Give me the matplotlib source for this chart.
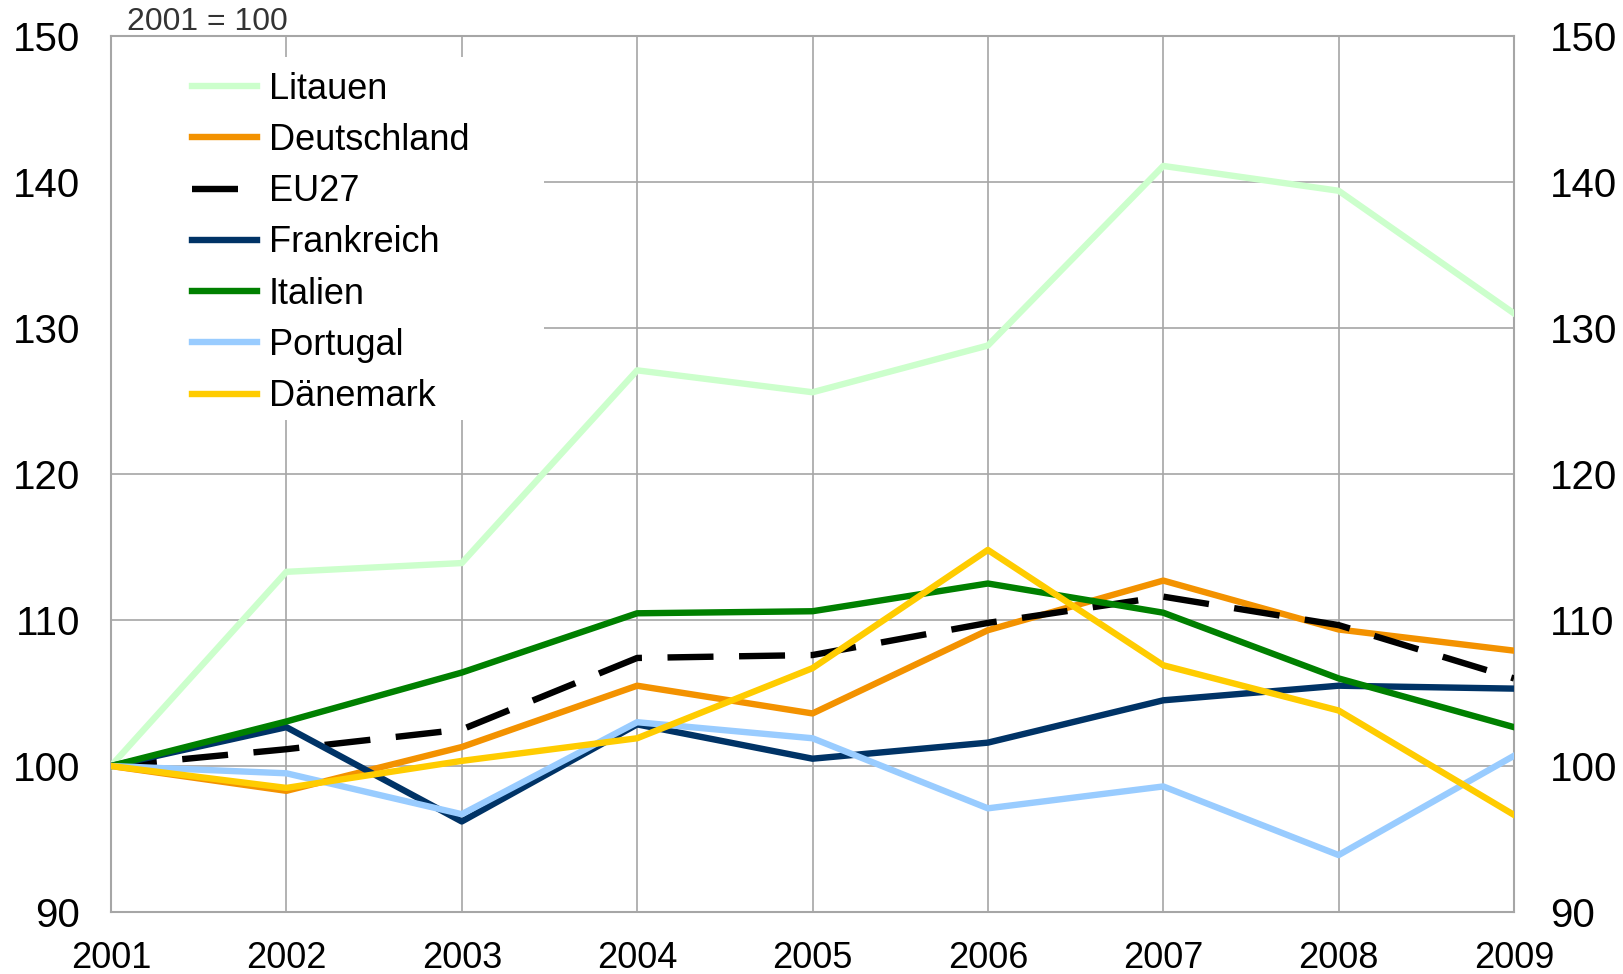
import matplotlib
matplotlib.use("Agg")
import matplotlib.pyplot as plt
from matplotlib.patches import Rectangle

years = [2001, 2002, 2003, 2004, 2005, 2006, 2007, 2008, 2009]
litauen = [100, 113.3, 113.9, 127.1, 125.6, 128.8, 141.1, 139.4, 131.0]
deutschland = [100, 98.3, 101.3, 105.5, 103.6, 109.3, 112.7, 109.35, 107.9]
eu27 = [100, 101.15, 102.5, 107.4, 107.6, 109.8, 111.6, 109.65, 106.0]
frankreich = [100, 102.66, 96.2, 102.85, 100.5, 101.6, 104.5, 105.5, 105.3]
italien = [100, 103.05, 106.4, 110.46, 110.6, 112.5, 110.5, 106.0, 102.66]
portugal = [100, 99.5, 96.7, 103.0, 101.9, 97.1, 98.6, 93.9, 100.7]
daenemark = [100, 98.5, 100.35, 101.9, 106.7, 114.8, 106.9, 103.8, 96.65]

series_names = ["Litauen", "Deutschland", "EU27", "Frankreich", "Italien", "Portugal", "Dänemark"]
series_values = [litauen, deutschland, eu27, frankreich, italien, portugal, daenemark]
series_colors = ["#CCFFCC", "#F39200", "#000000", "#003366", "#008000", "#99CCFF", "#FFCC00"]

y_ticks = [90, 100, 110, 120, 130, 140, 150]
x_tick_labels = [str(y) for y in years]
note = "2001 = 100"

plt.rcParams['font.family'] = ['Liberation Sans', 'DejaVu Sans']

W, H = 1624, 974
fig = plt.figure(figsize=(W / 100, H / 100), dpi=100)
L, R, T, B = 111, 1514, 36, 912
ax = fig.add_axes([L / W, 1 - B / H, (R - L) / W, (B - T) / H])

LW = 4.6
for name, vals, col in zip(series_names, series_values, series_colors):
    if name == "EU27":
        ax.plot(years, vals, color=col, lw=LW, label=name, dashes=(7.2, 4.0),
                solid_capstyle='butt', dash_capstyle='butt', zorder=3)
    else:
        ax.plot(years, vals, color=col, lw=LW, label=name, zorder=3)

ax.set_xlim(years[0], years[-1])
ax.set_ylim(90, 150)
ax.set_xticks(years)
ax.set_xticklabels(x_tick_labels, fontsize=26)
ax.set_yticks(y_ticks)
ax.set_yticklabels([str(v) for v in y_ticks], fontsize=29)
ax.tick_params(axis='both', length=0)
ax.tick_params(axis='y', pad=22)
ax.tick_params(axis='x', pad=21)
ax.grid(True, color="#A6A6A6", lw=1.2)
ax.set_axisbelow(True)
for s in ax.spines.values():
    s.set_color("#A6A6A6")
    s.set_linewidth(1.5)

# white legend background area
bx0, bx1, by0, by1 = L, 544, 57, 420
ax.add_patch(Rectangle(((bx0 - L) / (R - L), (B - by1) / (B - T)),
                       (bx1 - bx0) / (R - L), (by1 - by0) / (B - T),
                       transform=ax.transAxes, facecolor='white', edgecolor='none',
                       zorder=1))

ax2 = ax.twinx()
ax2.set_ylim(90, 150)
ax2.set_yticks(y_ticks)
ax2.set_yticklabels([str(v) for v in y_ticks], fontsize=29)
ax2.tick_params(axis='y', length=0, pad=26)
for s in ax2.spines.values():
    s.set_visible(False)

leg = ax.legend(loc='center left', bbox_to_anchor=((192 - L) / (R - L), (B - 243) / (B - T)),
                fontsize=26, frameon=False, handlelength=1.8, handletextpad=0.33,
                labelspacing=0.45, borderpad=0, borderaxespad=0)
leg.set_zorder(5)

fig.text(127 / W, 1 - 22 / H, note, fontsize=23, color="#333333",
         ha='left', va='center')

fig.savefig("out.png", dpi=100)
